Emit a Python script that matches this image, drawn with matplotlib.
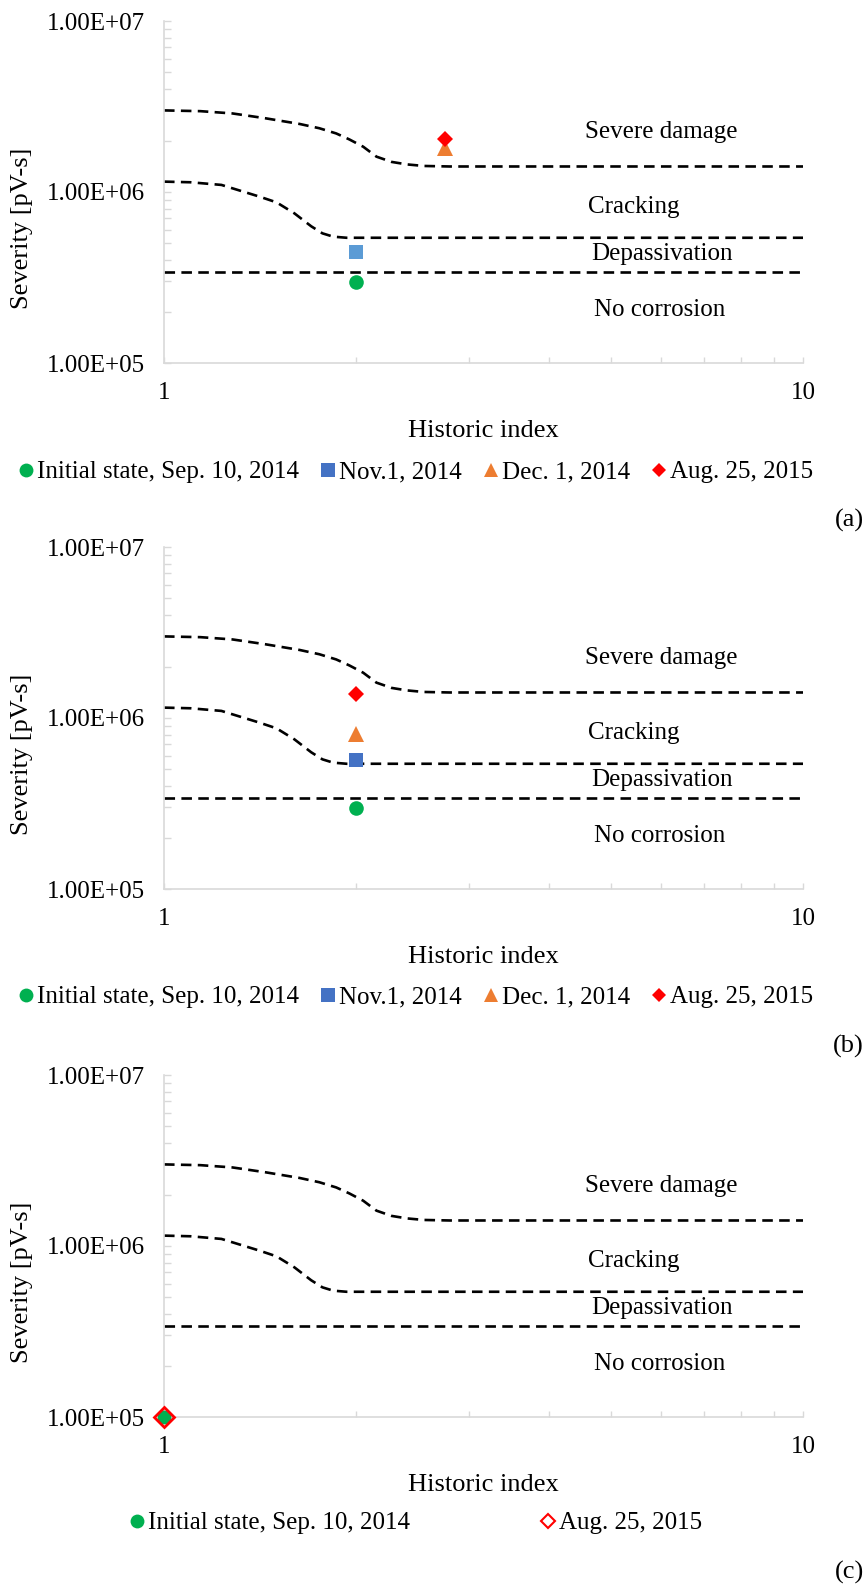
import matplotlib
matplotlib.use('Agg')
import matplotlib.pyplot as plt
from matplotlib.lines import Line2D
from matplotlib.ticker import FuncFormatter, NullFormatter

plt.rcParams['font.family'] = ['Liberation Serif', 'DejaVu Serif']

W, H = 865, 1590

# zone boundaries (historic index vs severity)
upper_x = [1, 1.14, 1.28, 1.44, 1.63, 1.75, 1.86, 1.95, 2.05, 2.15, 2.27, 2.4, 2.55, 2.8, 10]
upper_y = [3.0e6, 2.97e6, 2.88e6, 2.7e6, 2.5e6, 2.36e6, 2.2e6, 2.03e6, 1.84e6, 1.61e6,
           1.5e6, 1.45e6, 1.42e6, 1.41e6, 1.41e6]
middle_x = [1, 1.1, 1.23, 1.41, 1.5, 1.6, 1.7, 1.77, 1.84, 1.93, 10]
middle_y = [1.15e6, 1.14e6, 1.10e6, 9.4e5, 8.7e5, 7.5e5, 6.3e5, 5.73e5, 5.48e5, 5.4e5, 5.4e5]
lower_x = [1, 10]
lower_y = [3.4e5, 3.4e5]

zones = ['Severe damage', 'Cracking', 'Depassivation', 'No corrosion']
zone_x = [6.0, 5.44, 6.02, 5.97]
zone_y = [2.24e6, 8.17e5, 4.34e5, 2.04e5]

dates = ['Initial state, Sep. 10, 2014', 'Nov.1, 2014', 'Dec. 1, 2014', 'Aug. 25, 2015']

# measurements per date
a_index = [2.0, 2.0, 2.75, 2.75]
a_severity = [2.97e5, 4.48e5, 1.80e6, 2.03e6]
b_index = [2.0, 2.0, 2.0, 2.0]
b_severity = [2.97e5, 5.7e5, 8.05e5, 1.39e6]
c_index = [1.0, 1.0]
c_severity = [1.0e5, 1.0e5]

GREEN, BLUE, LIGHTBLUE, ORANGE, RED = '#00B050', '#4472C4', '#5B9BD5', '#ED7D31', '#FF0000'
GRID = '#D9D9D9'


def make_axes(fig, top, bottom):
    ax = fig.add_axes([164 / W, 1 - bottom / H, (803 - 164) / W, (bottom - top) / H])
    ax.set_xscale('log')
    ax.set_yscale('log')
    ax.set_xlim(1, 10)
    ax.set_ylim(1e5, 1e7)
    for s in ['top', 'right']:
        ax.spines[s].set_visible(False)
    for s in ['left', 'bottom']:
        ax.spines[s].set_color(GRID)
        ax.spines[s].set_linewidth(1.2)
    ax.tick_params(which='both', direction='in', color=GRID, width=1.0, labelsize=18)
    ax.tick_params(axis='y', which='both', length=5, pad=14)
    ax.tick_params(axis='x', which='both', length=4, pad=14)
    ax.xaxis.set_major_formatter(FuncFormatter(lambda v, p: f'{v:g}'))
    ax.xaxis.set_minor_formatter(NullFormatter())
    ax.yaxis.set_major_formatter(FuncFormatter(lambda v, p: f'{v:.2E}'))
    ax.yaxis.set_minor_formatter(NullFormatter())

    for xs, ys in [(upper_x, upper_y), (middle_x, middle_y), (lower_x, lower_y)]:
        ax.plot(xs, ys, color='black', lw=1.9, dashes=(4, 2.4))
    for name, zx, zy in zip(zones, zone_x, zone_y):
        ax.text(zx, zy, name, fontsize=18, ha='center', va='center')

    fig.text(483 / W, 1 - (bottom + 68) / H, 'Historic index', fontsize=19, ha='center', va='center')
    fig.text(22 / W, 1 - (top + 207) / H, 'Severity [pV-s]', fontsize=19, rotation=90,
             ha='center', va='center')
    return ax


def legend_handles(styles):
    return [Line2D([], [], linestyle='none', **st) for st in styles]


fig = plt.figure(figsize=(W / 100, H / 100), dpi=100)

circle = dict(marker='o', color=GREEN, markersize=10.5, markeredgewidth=0)
square_a = dict(marker='s', color=LIGHTBLUE, markersize=10.5, markeredgewidth=0)
square = dict(marker='s', color=BLUE, markersize=10.5, markeredgewidth=0)
triangle = dict(marker='^', color=ORANGE, markersize=11, markeredgewidth=0)
diamond = dict(marker='D', color=RED, markersize=8, markeredgewidth=0)
full_legend = [circle, square, triangle, diamond]

# (a)
top, bottom = 21, 363
ax = make_axes(fig, top, bottom)
for st, xi, yi in zip([circle, square_a, triangle, diamond], a_index, a_severity):
    ax.plot([xi], [yi], linestyle='none', zorder=5, **st)
fig.legend(legend_handles(full_legend), dates, loc='center',
           bbox_to_anchor=(416 / W, 1 - (bottom + 109) / H), ncol=4, frameon=False,
           fontsize=18, handlelength=0.6, handletextpad=0.15, columnspacing=0.85,
           borderaxespad=0, markerscale=0.95)
fig.text(864 / W, 1 - (bottom + 157) / H, '(a)', fontsize=19, ha='right', va='center')

# (b)
top, bottom = 547, 889
ax = make_axes(fig, top, bottom)
for st, xi, yi in zip(full_legend, b_index, b_severity):
    ax.plot([xi], [yi], linestyle='none', zorder=5, **st)
fig.legend(legend_handles(full_legend), dates, loc='center',
           bbox_to_anchor=(416 / W, 1 - (bottom + 108) / H), ncol=4, frameon=False,
           fontsize=18, handlelength=0.6, handletextpad=0.15, columnspacing=0.85,
           borderaxespad=0, markerscale=0.95)
fig.text(864 / W, 1 - (bottom + 157) / H, '(b)', fontsize=19, ha='right', va='center')

# (c)
top, bottom = 1075, 1417
ax = make_axes(fig, top, bottom)
hollow = dict(marker='D', markerfacecolor='none', markeredgecolor=RED, markersize=10.5,
              markeredgewidth=2.0)
c_circle = dict(marker='o', color=GREEN, markersize=10, markeredgewidth=0)
for st, xi, yi in zip([c_circle, hollow], c_index, c_severity):
    ax.plot([xi], [yi], linestyle='none', zorder=6, clip_on=False, **st)
fig.legend(legend_handles([circle, dict(hollow, markersize=8, markeredgewidth=1.5)]),
           [dates[0], dates[3]], loc='center',
           bbox_to_anchor=(416 / W, 1 - (bottom + 106) / H), ncol=2, frameon=False,
           fontsize=18, handlelength=0.6, handletextpad=0.15, columnspacing=5.2,
           borderaxespad=0, markerscale=0.95)
fig.text(864 / W, 1 - (bottom + 155) / H, '(c)', fontsize=19, ha='right', va='center')

fig.savefig('out.png', dpi=100)
